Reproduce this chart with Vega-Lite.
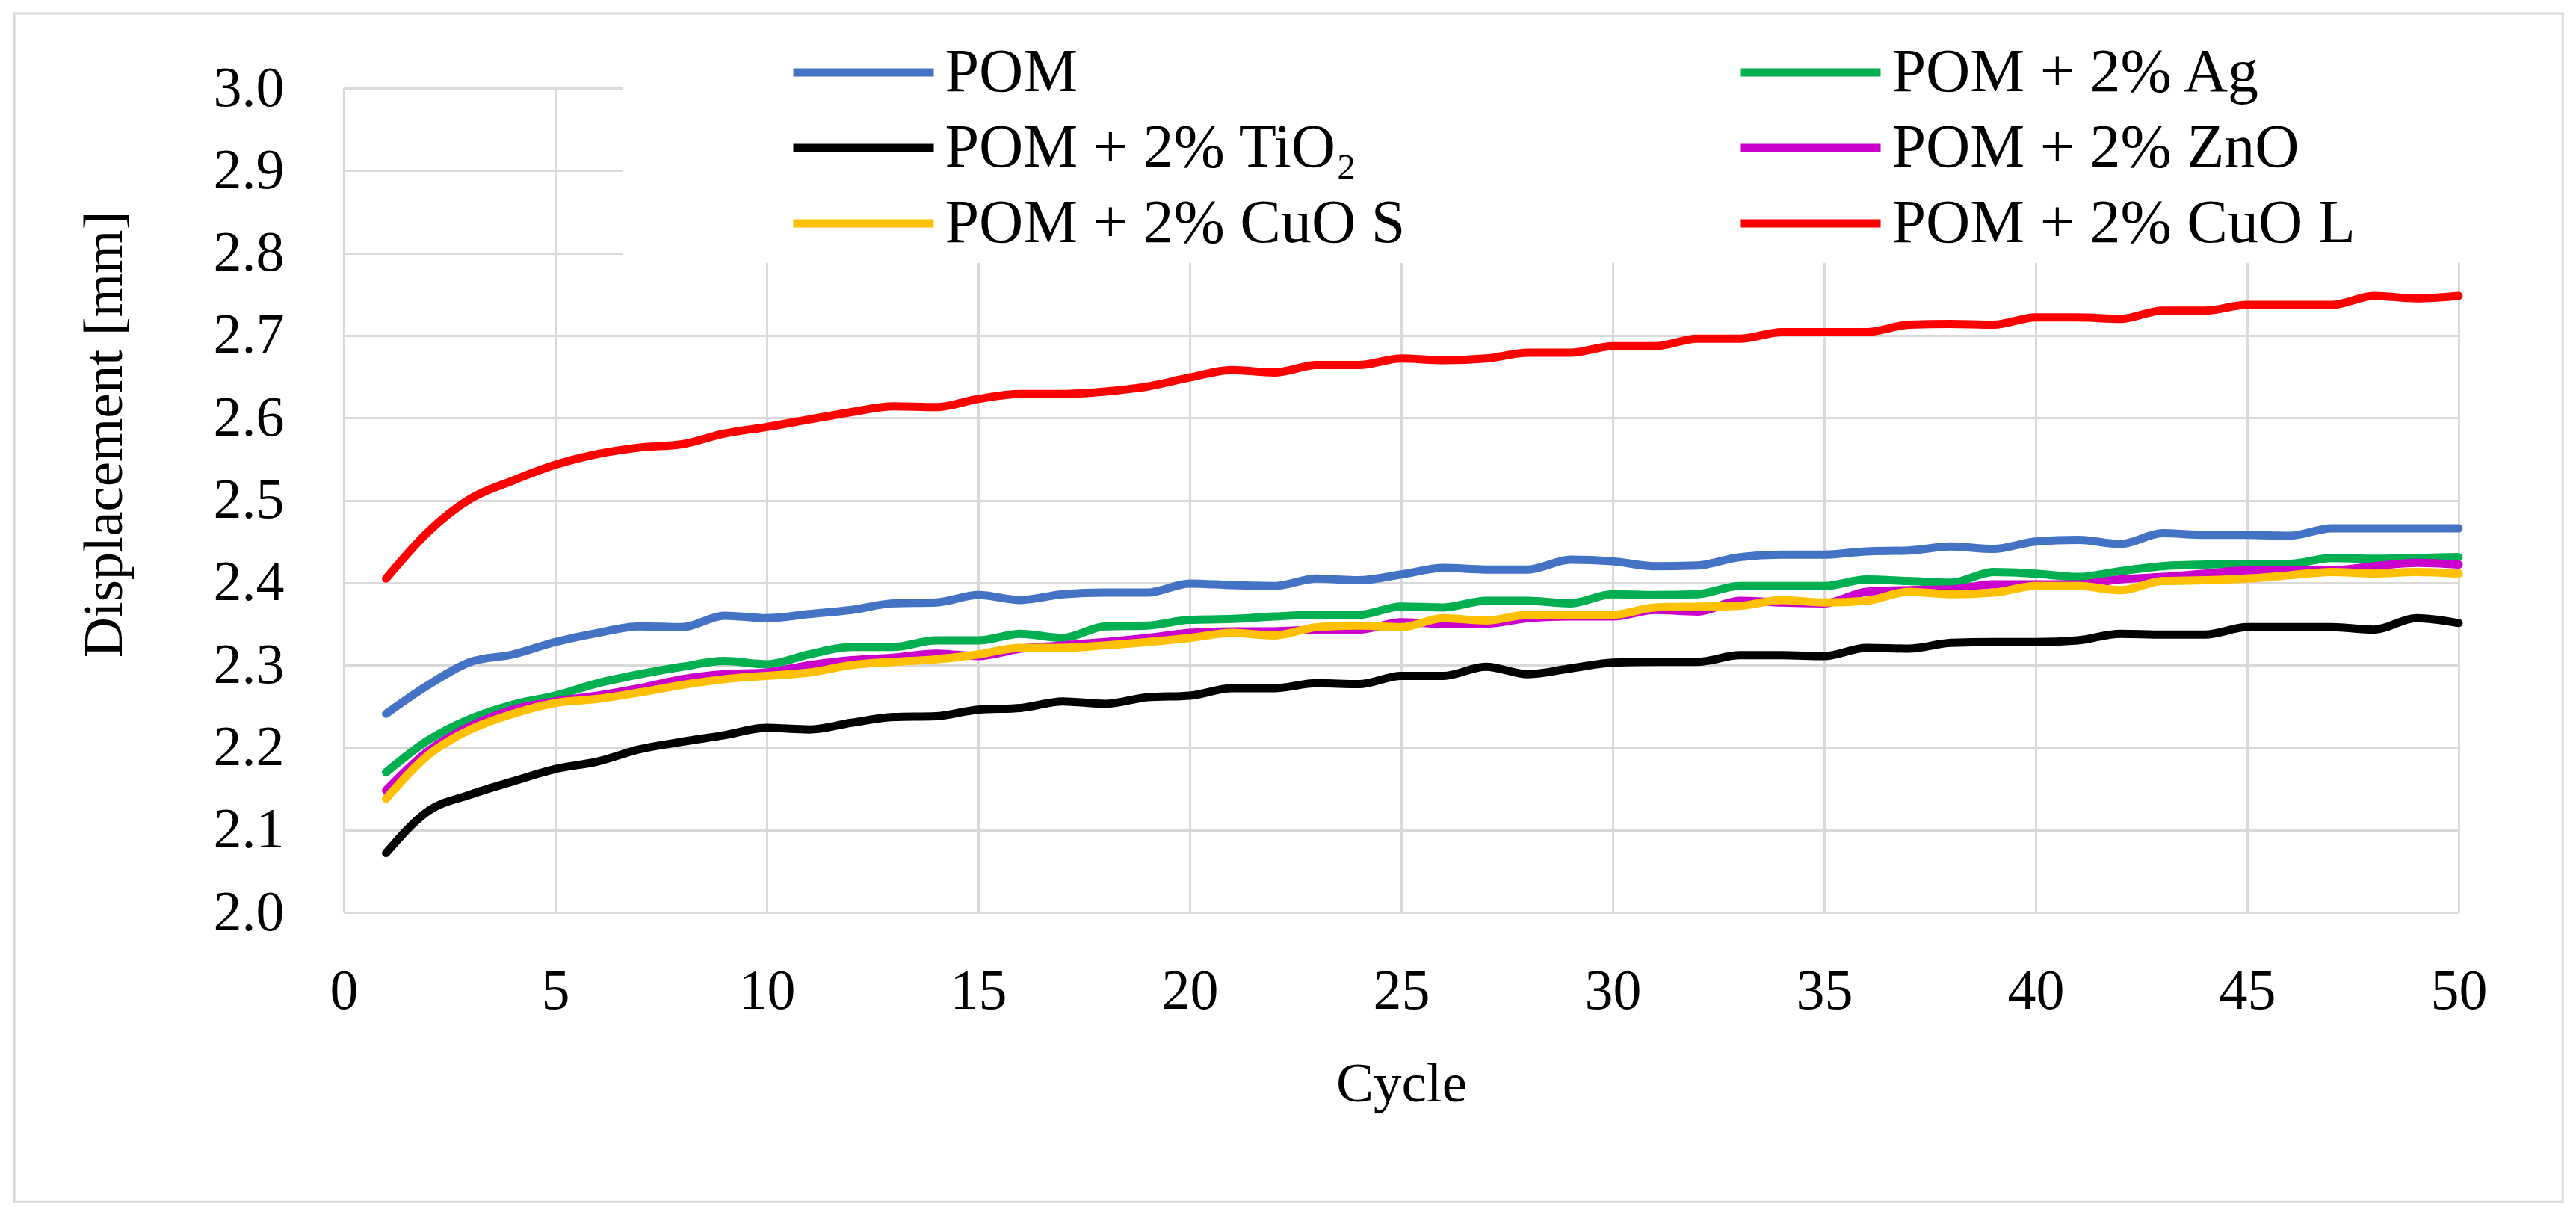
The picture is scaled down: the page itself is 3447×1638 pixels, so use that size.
{
  "$schema": "https://vega.github.io/schema/vega-lite/v6.json",
  "description": "Displacement versus cycle for POM and POM composites",
  "width": 2830,
  "height": 1103,
  "autosize": {"type": "none"},
  "padding": {"left": 460, "top": 118, "right": 157, "bottom": 417},
  "background": "white",
  "config": {"view": {"stroke": null}, "font": "Liberation Serif"},
  "datasets": {
    "displacement": [
      {"cycle": 1, "series": "POM", "mm": 2.241}, {"cycle": 2, "series": "POM", "mm": 2.276}, {"cycle": 3, "series": "POM", "mm": 2.304}, {"cycle": 4, "series": "POM", "mm": 2.313}, {"cycle": 5, "series": "POM", "mm": 2.328},
      {"cycle": 6, "series": "POM", "mm": 2.339}, {"cycle": 7, "series": "POM", "mm": 2.347}, {"cycle": 8, "series": "POM", "mm": 2.346}, {"cycle": 9, "series": "POM", "mm": 2.360}, {"cycle": 10, "series": "POM", "mm": 2.357},
      {"cycle": 11, "series": "POM", "mm": 2.362}, {"cycle": 12, "series": "POM", "mm": 2.367}, {"cycle": 13, "series": "POM", "mm": 2.375}, {"cycle": 14, "series": "POM", "mm": 2.376}, {"cycle": 15, "series": "POM", "mm": 2.385},
      {"cycle": 16, "series": "POM", "mm": 2.379}, {"cycle": 17, "series": "POM", "mm": 2.386}, {"cycle": 18, "series": "POM", "mm": 2.388}, {"cycle": 19, "series": "POM", "mm": 2.388}, {"cycle": 20, "series": "POM", "mm": 2.399},
      {"cycle": 21, "series": "POM", "mm": 2.397}, {"cycle": 22, "series": "POM", "mm": 2.396}, {"cycle": 23, "series": "POM", "mm": 2.405}, {"cycle": 24, "series": "POM", "mm": 2.403}, {"cycle": 25, "series": "POM", "mm": 2.410},
      {"cycle": 26, "series": "POM", "mm": 2.418}, {"cycle": 27, "series": "POM", "mm": 2.416}, {"cycle": 28, "series": "POM", "mm": 2.416}, {"cycle": 29, "series": "POM", "mm": 2.428}, {"cycle": 30, "series": "POM", "mm": 2.426},
      {"cycle": 31, "series": "POM", "mm": 2.420}, {"cycle": 32, "series": "POM", "mm": 2.421}, {"cycle": 33, "series": "POM", "mm": 2.431}, {"cycle": 34, "series": "POM", "mm": 2.434}, {"cycle": 35, "series": "POM", "mm": 2.434},
      {"cycle": 36, "series": "POM", "mm": 2.438}, {"cycle": 37, "series": "POM", "mm": 2.439}, {"cycle": 38, "series": "POM", "mm": 2.444}, {"cycle": 39, "series": "POM", "mm": 2.441}, {"cycle": 40, "series": "POM", "mm": 2.450},
      {"cycle": 41, "series": "POM", "mm": 2.452}, {"cycle": 42, "series": "POM", "mm": 2.447}, {"cycle": 43, "series": "POM", "mm": 2.460}, {"cycle": 44, "series": "POM", "mm": 2.458}, {"cycle": 45, "series": "POM", "mm": 2.458},
      {"cycle": 46, "series": "POM", "mm": 2.457}, {"cycle": 47, "series": "POM", "mm": 2.466}, {"cycle": 48, "series": "POM", "mm": 2.466}, {"cycle": 49, "series": "POM", "mm": 2.466}, {"cycle": 50, "series": "POM", "mm": 2.466},

      {"cycle": 1, "series": "POM + 2% Ag", "mm": 2.170}, {"cycle": 2, "series": "POM + 2% Ag", "mm": 2.209}, {"cycle": 3, "series": "POM + 2% Ag", "mm": 2.235}, {"cycle": 4, "series": "POM + 2% Ag", "mm": 2.252}, {"cycle": 5, "series": "POM + 2% Ag", "mm": 2.263},
      {"cycle": 6, "series": "POM + 2% Ag", "mm": 2.278}, {"cycle": 7, "series": "POM + 2% Ag", "mm": 2.289}, {"cycle": 8, "series": "POM + 2% Ag", "mm": 2.298}, {"cycle": 9, "series": "POM + 2% Ag", "mm": 2.305}, {"cycle": 10, "series": "POM + 2% Ag", "mm": 2.301},
      {"cycle": 11, "series": "POM + 2% Ag", "mm": 2.313}, {"cycle": 12, "series": "POM + 2% Ag", "mm": 2.322}, {"cycle": 13, "series": "POM + 2% Ag", "mm": 2.322}, {"cycle": 14, "series": "POM + 2% Ag", "mm": 2.330}, {"cycle": 15, "series": "POM + 2% Ag", "mm": 2.330},
      {"cycle": 16, "series": "POM + 2% Ag", "mm": 2.338}, {"cycle": 17, "series": "POM + 2% Ag", "mm": 2.333}, {"cycle": 18, "series": "POM + 2% Ag", "mm": 2.347}, {"cycle": 19, "series": "POM + 2% Ag", "mm": 2.348}, {"cycle": 20, "series": "POM + 2% Ag", "mm": 2.355},
      {"cycle": 21, "series": "POM + 2% Ag", "mm": 2.356}, {"cycle": 22, "series": "POM + 2% Ag", "mm": 2.359}, {"cycle": 23, "series": "POM + 2% Ag", "mm": 2.361}, {"cycle": 24, "series": "POM + 2% Ag", "mm": 2.361}, {"cycle": 25, "series": "POM + 2% Ag", "mm": 2.371},
      {"cycle": 26, "series": "POM + 2% Ag", "mm": 2.370}, {"cycle": 27, "series": "POM + 2% Ag", "mm": 2.378}, {"cycle": 28, "series": "POM + 2% Ag", "mm": 2.378}, {"cycle": 29, "series": "POM + 2% Ag", "mm": 2.375}, {"cycle": 30, "series": "POM + 2% Ag", "mm": 2.386},
      {"cycle": 31, "series": "POM + 2% Ag", "mm": 2.385}, {"cycle": 32, "series": "POM + 2% Ag", "mm": 2.386}, {"cycle": 33, "series": "POM + 2% Ag", "mm": 2.396}, {"cycle": 34, "series": "POM + 2% Ag", "mm": 2.396}, {"cycle": 35, "series": "POM + 2% Ag", "mm": 2.396},
      {"cycle": 36, "series": "POM + 2% Ag", "mm": 2.404}, {"cycle": 37, "series": "POM + 2% Ag", "mm": 2.402}, {"cycle": 38, "series": "POM + 2% Ag", "mm": 2.400}, {"cycle": 39, "series": "POM + 2% Ag", "mm": 2.413}, {"cycle": 40, "series": "POM + 2% Ag", "mm": 2.411},
      {"cycle": 41, "series": "POM + 2% Ag", "mm": 2.407}, {"cycle": 42, "series": "POM + 2% Ag", "mm": 2.414}, {"cycle": 43, "series": "POM + 2% Ag", "mm": 2.420}, {"cycle": 44, "series": "POM + 2% Ag", "mm": 2.422}, {"cycle": 45, "series": "POM + 2% Ag", "mm": 2.423},
      {"cycle": 46, "series": "POM + 2% Ag", "mm": 2.423}, {"cycle": 47, "series": "POM + 2% Ag", "mm": 2.430}, {"cycle": 48, "series": "POM + 2% Ag", "mm": 2.429}, {"cycle": 49, "series": "POM + 2% Ag", "mm": 2.430}, {"cycle": 50, "series": "POM + 2% Ag", "mm": 2.431},

      {"cycle": 1, "series": "POM + 2% TiO₂", "mm": 2.072}, {"cycle": 2, "series": "POM + 2% TiO₂", "mm": 2.123}, {"cycle": 3, "series": "POM + 2% TiO₂", "mm": 2.143}, {"cycle": 4, "series": "POM + 2% TiO₂", "mm": 2.159}, {"cycle": 5, "series": "POM + 2% TiO₂", "mm": 2.174},
      {"cycle": 6, "series": "POM + 2% TiO₂", "mm": 2.183}, {"cycle": 7, "series": "POM + 2% TiO₂", "mm": 2.198}, {"cycle": 8, "series": "POM + 2% TiO₂", "mm": 2.207}, {"cycle": 9, "series": "POM + 2% TiO₂", "mm": 2.215}, {"cycle": 10, "series": "POM + 2% TiO₂", "mm": 2.224},
      {"cycle": 11, "series": "POM + 2% TiO₂", "mm": 2.222}, {"cycle": 12, "series": "POM + 2% TiO₂", "mm": 2.230}, {"cycle": 13, "series": "POM + 2% TiO₂", "mm": 2.237}, {"cycle": 14, "series": "POM + 2% TiO₂", "mm": 2.238}, {"cycle": 15, "series": "POM + 2% TiO₂", "mm": 2.246},
      {"cycle": 16, "series": "POM + 2% TiO₂", "mm": 2.248}, {"cycle": 17, "series": "POM + 2% TiO₂", "mm": 2.256}, {"cycle": 18, "series": "POM + 2% TiO₂", "mm": 2.253}, {"cycle": 19, "series": "POM + 2% TiO₂", "mm": 2.261}, {"cycle": 20, "series": "POM + 2% TiO₂", "mm": 2.263},
      {"cycle": 21, "series": "POM + 2% TiO₂", "mm": 2.272}, {"cycle": 22, "series": "POM + 2% TiO₂", "mm": 2.272}, {"cycle": 23, "series": "POM + 2% TiO₂", "mm": 2.278}, {"cycle": 24, "series": "POM + 2% TiO₂", "mm": 2.277}, {"cycle": 25, "series": "POM + 2% TiO₂", "mm": 2.287},
      {"cycle": 26, "series": "POM + 2% TiO₂", "mm": 2.287}, {"cycle": 27, "series": "POM + 2% TiO₂", "mm": 2.298}, {"cycle": 28, "series": "POM + 2% TiO₂", "mm": 2.289}, {"cycle": 29, "series": "POM + 2% TiO₂", "mm": 2.296}, {"cycle": 30, "series": "POM + 2% TiO₂", "mm": 2.303},
      {"cycle": 31, "series": "POM + 2% TiO₂", "mm": 2.304}, {"cycle": 32, "series": "POM + 2% TiO₂", "mm": 2.304}, {"cycle": 33, "series": "POM + 2% TiO₂", "mm": 2.312}, {"cycle": 34, "series": "POM + 2% TiO₂", "mm": 2.312}, {"cycle": 35, "series": "POM + 2% TiO₂", "mm": 2.311},
      {"cycle": 36, "series": "POM + 2% TiO₂", "mm": 2.321}, {"cycle": 37, "series": "POM + 2% TiO₂", "mm": 2.320}, {"cycle": 38, "series": "POM + 2% TiO₂", "mm": 2.327}, {"cycle": 39, "series": "POM + 2% TiO₂", "mm": 2.328}, {"cycle": 40, "series": "POM + 2% TiO₂", "mm": 2.328},
      {"cycle": 41, "series": "POM + 2% TiO₂", "mm": 2.330}, {"cycle": 42, "series": "POM + 2% TiO₂", "mm": 2.338}, {"cycle": 43, "series": "POM + 2% TiO₂", "mm": 2.337}, {"cycle": 44, "series": "POM + 2% TiO₂", "mm": 2.337}, {"cycle": 45, "series": "POM + 2% TiO₂", "mm": 2.346},
      {"cycle": 46, "series": "POM + 2% TiO₂", "mm": 2.346}, {"cycle": 47, "series": "POM + 2% TiO₂", "mm": 2.346}, {"cycle": 48, "series": "POM + 2% TiO₂", "mm": 2.343}, {"cycle": 49, "series": "POM + 2% TiO₂", "mm": 2.357}, {"cycle": 50, "series": "POM + 2% TiO₂", "mm": 2.351},

      {"cycle": 1, "series": "POM + 2% ZnO", "mm": 2.148}, {"cycle": 2, "series": "POM + 2% ZnO", "mm": 2.196}, {"cycle": 3, "series": "POM + 2% ZnO", "mm": 2.226}, {"cycle": 4, "series": "POM + 2% ZnO", "mm": 2.246}, {"cycle": 5, "series": "POM + 2% ZnO", "mm": 2.256},
      {"cycle": 6, "series": "POM + 2% ZnO", "mm": 2.263}, {"cycle": 7, "series": "POM + 2% ZnO", "mm": 2.272}, {"cycle": 8, "series": "POM + 2% ZnO", "mm": 2.283}, {"cycle": 9, "series": "POM + 2% ZnO", "mm": 2.289}, {"cycle": 10, "series": "POM + 2% ZnO", "mm": 2.291},
      {"cycle": 11, "series": "POM + 2% ZnO", "mm": 2.300}, {"cycle": 12, "series": "POM + 2% ZnO", "mm": 2.306}, {"cycle": 13, "series": "POM + 2% ZnO", "mm": 2.309}, {"cycle": 14, "series": "POM + 2% ZnO", "mm": 2.314}, {"cycle": 15, "series": "POM + 2% ZnO", "mm": 2.311},
      {"cycle": 16, "series": "POM + 2% ZnO", "mm": 2.320}, {"cycle": 17, "series": "POM + 2% ZnO", "mm": 2.324}, {"cycle": 18, "series": "POM + 2% ZnO", "mm": 2.328}, {"cycle": 19, "series": "POM + 2% ZnO", "mm": 2.333}, {"cycle": 20, "series": "POM + 2% ZnO", "mm": 2.339},
      {"cycle": 21, "series": "POM + 2% ZnO", "mm": 2.341}, {"cycle": 22, "series": "POM + 2% ZnO", "mm": 2.341}, {"cycle": 23, "series": "POM + 2% ZnO", "mm": 2.343}, {"cycle": 24, "series": "POM + 2% ZnO", "mm": 2.343}, {"cycle": 25, "series": "POM + 2% ZnO", "mm": 2.352},
      {"cycle": 26, "series": "POM + 2% ZnO", "mm": 2.350}, {"cycle": 27, "series": "POM + 2% ZnO", "mm": 2.350}, {"cycle": 28, "series": "POM + 2% ZnO", "mm": 2.357}, {"cycle": 29, "series": "POM + 2% ZnO", "mm": 2.359}, {"cycle": 30, "series": "POM + 2% ZnO", "mm": 2.359},
      {"cycle": 31, "series": "POM + 2% ZnO", "mm": 2.367}, {"cycle": 32, "series": "POM + 2% ZnO", "mm": 2.365}, {"cycle": 33, "series": "POM + 2% ZnO", "mm": 2.378}, {"cycle": 34, "series": "POM + 2% ZnO", "mm": 2.376}, {"cycle": 35, "series": "POM + 2% ZnO", "mm": 2.375},
      {"cycle": 36, "series": "POM + 2% ZnO", "mm": 2.389}, {"cycle": 37, "series": "POM + 2% ZnO", "mm": 2.391}, {"cycle": 38, "series": "POM + 2% ZnO", "mm": 2.392}, {"cycle": 39, "series": "POM + 2% ZnO", "mm": 2.398}, {"cycle": 40, "series": "POM + 2% ZnO", "mm": 2.398},
      {"cycle": 41, "series": "POM + 2% ZnO", "mm": 2.398}, {"cycle": 42, "series": "POM + 2% ZnO", "mm": 2.404}, {"cycle": 43, "series": "POM + 2% ZnO", "mm": 2.407}, {"cycle": 44, "series": "POM + 2% ZnO", "mm": 2.411}, {"cycle": 45, "series": "POM + 2% ZnO", "mm": 2.415},
      {"cycle": 46, "series": "POM + 2% ZnO", "mm": 2.415}, {"cycle": 47, "series": "POM + 2% ZnO", "mm": 2.415}, {"cycle": 48, "series": "POM + 2% ZnO", "mm": 2.420}, {"cycle": 49, "series": "POM + 2% ZnO", "mm": 2.424}, {"cycle": 50, "series": "POM + 2% ZnO", "mm": 2.422},

      {"cycle": 1, "series": "POM + 2% CuO S", "mm": 2.138}, {"cycle": 2, "series": "POM + 2% CuO S", "mm": 2.191}, {"cycle": 3, "series": "POM + 2% CuO S", "mm": 2.222}, {"cycle": 4, "series": "POM + 2% CuO S", "mm": 2.241}, {"cycle": 5, "series": "POM + 2% CuO S", "mm": 2.254},
      {"cycle": 6, "series": "POM + 2% CuO S", "mm": 2.259}, {"cycle": 7, "series": "POM + 2% CuO S", "mm": 2.267}, {"cycle": 8, "series": "POM + 2% CuO S", "mm": 2.276}, {"cycle": 9, "series": "POM + 2% CuO S", "mm": 2.283}, {"cycle": 10, "series": "POM + 2% CuO S", "mm": 2.287},
      {"cycle": 11, "series": "POM + 2% CuO S", "mm": 2.291}, {"cycle": 12, "series": "POM + 2% CuO S", "mm": 2.300}, {"cycle": 13, "series": "POM + 2% CuO S", "mm": 2.304}, {"cycle": 14, "series": "POM + 2% CuO S", "mm": 2.307}, {"cycle": 15, "series": "POM + 2% CuO S", "mm": 2.313},
      {"cycle": 16, "series": "POM + 2% CuO S", "mm": 2.321}, {"cycle": 17, "series": "POM + 2% CuO S", "mm": 2.321}, {"cycle": 18, "series": "POM + 2% CuO S", "mm": 2.324}, {"cycle": 19, "series": "POM + 2% CuO S", "mm": 2.328}, {"cycle": 20, "series": "POM + 2% CuO S", "mm": 2.333},
      {"cycle": 21, "series": "POM + 2% CuO S", "mm": 2.339}, {"cycle": 22, "series": "POM + 2% CuO S", "mm": 2.336}, {"cycle": 23, "series": "POM + 2% CuO S", "mm": 2.346}, {"cycle": 24, "series": "POM + 2% CuO S", "mm": 2.348}, {"cycle": 25, "series": "POM + 2% CuO S", "mm": 2.346},
      {"cycle": 26, "series": "POM + 2% CuO S", "mm": 2.357}, {"cycle": 27, "series": "POM + 2% CuO S", "mm": 2.354}, {"cycle": 28, "series": "POM + 2% CuO S", "mm": 2.361}, {"cycle": 29, "series": "POM + 2% CuO S", "mm": 2.361}, {"cycle": 30, "series": "POM + 2% CuO S", "mm": 2.361},
      {"cycle": 31, "series": "POM + 2% CuO S", "mm": 2.370}, {"cycle": 32, "series": "POM + 2% CuO S", "mm": 2.371}, {"cycle": 33, "series": "POM + 2% CuO S", "mm": 2.372}, {"cycle": 34, "series": "POM + 2% CuO S", "mm": 2.379}, {"cycle": 35, "series": "POM + 2% CuO S", "mm": 2.376},
      {"cycle": 36, "series": "POM + 2% CuO S", "mm": 2.378}, {"cycle": 37, "series": "POM + 2% CuO S", "mm": 2.389}, {"cycle": 38, "series": "POM + 2% CuO S", "mm": 2.386}, {"cycle": 39, "series": "POM + 2% CuO S", "mm": 2.388}, {"cycle": 40, "series": "POM + 2% CuO S", "mm": 2.396},
      {"cycle": 41, "series": "POM + 2% CuO S", "mm": 2.396}, {"cycle": 42, "series": "POM + 2% CuO S", "mm": 2.391}, {"cycle": 43, "series": "POM + 2% CuO S", "mm": 2.402}, {"cycle": 44, "series": "POM + 2% CuO S", "mm": 2.403}, {"cycle": 45, "series": "POM + 2% CuO S", "mm": 2.405},
      {"cycle": 46, "series": "POM + 2% CuO S", "mm": 2.409}, {"cycle": 47, "series": "POM + 2% CuO S", "mm": 2.413}, {"cycle": 48, "series": "POM + 2% CuO S", "mm": 2.411}, {"cycle": 49, "series": "POM + 2% CuO S", "mm": 2.413}, {"cycle": 50, "series": "POM + 2% CuO S", "mm": 2.411},

      {"cycle": 1, "series": "POM + 2% CuO L", "mm": 2.405}, {"cycle": 2, "series": "POM + 2% CuO L", "mm": 2.462}, {"cycle": 3, "series": "POM + 2% CuO L", "mm": 2.502}, {"cycle": 4, "series": "POM + 2% CuO L", "mm": 2.524}, {"cycle": 5, "series": "POM + 2% CuO L", "mm": 2.543},
      {"cycle": 6, "series": "POM + 2% CuO L", "mm": 2.556}, {"cycle": 7, "series": "POM + 2% CuO L", "mm": 2.564}, {"cycle": 8, "series": "POM + 2% CuO L", "mm": 2.568}, {"cycle": 9, "series": "POM + 2% CuO L", "mm": 2.581}, {"cycle": 10, "series": "POM + 2% CuO L", "mm": 2.589},
      {"cycle": 11, "series": "POM + 2% CuO L", "mm": 2.598}, {"cycle": 12, "series": "POM + 2% CuO L", "mm": 2.607}, {"cycle": 13, "series": "POM + 2% CuO L", "mm": 2.614}, {"cycle": 14, "series": "POM + 2% CuO L", "mm": 2.613}, {"cycle": 15, "series": "POM + 2% CuO L", "mm": 2.623},
      {"cycle": 16, "series": "POM + 2% CuO L", "mm": 2.629}, {"cycle": 17, "series": "POM + 2% CuO L", "mm": 2.629}, {"cycle": 18, "series": "POM + 2% CuO L", "mm": 2.632}, {"cycle": 19, "series": "POM + 2% CuO L", "mm": 2.638}, {"cycle": 20, "series": "POM + 2% CuO L", "mm": 2.649},
      {"cycle": 21, "series": "POM + 2% CuO L", "mm": 2.658}, {"cycle": 22, "series": "POM + 2% CuO L", "mm": 2.655}, {"cycle": 23, "series": "POM + 2% CuO L", "mm": 2.664}, {"cycle": 24, "series": "POM + 2% CuO L", "mm": 2.664}, {"cycle": 25, "series": "POM + 2% CuO L", "mm": 2.672},
      {"cycle": 26, "series": "POM + 2% CuO L", "mm": 2.670}, {"cycle": 27, "series": "POM + 2% CuO L", "mm": 2.672}, {"cycle": 28, "series": "POM + 2% CuO L", "mm": 2.679}, {"cycle": 29, "series": "POM + 2% CuO L", "mm": 2.679}, {"cycle": 30, "series": "POM + 2% CuO L", "mm": 2.687},
      {"cycle": 31, "series": "POM + 2% CuO L", "mm": 2.687}, {"cycle": 32, "series": "POM + 2% CuO L", "mm": 2.696}, {"cycle": 33, "series": "POM + 2% CuO L", "mm": 2.696}, {"cycle": 34, "series": "POM + 2% CuO L", "mm": 2.704}, {"cycle": 35, "series": "POM + 2% CuO L", "mm": 2.704},
      {"cycle": 36, "series": "POM + 2% CuO L", "mm": 2.704}, {"cycle": 37, "series": "POM + 2% CuO L", "mm": 2.713}, {"cycle": 38, "series": "POM + 2% CuO L", "mm": 2.714}, {"cycle": 39, "series": "POM + 2% CuO L", "mm": 2.713}, {"cycle": 40, "series": "POM + 2% CuO L", "mm": 2.722},
      {"cycle": 41, "series": "POM + 2% CuO L", "mm": 2.722}, {"cycle": 42, "series": "POM + 2% CuO L", "mm": 2.720}, {"cycle": 43, "series": "POM + 2% CuO L", "mm": 2.730}, {"cycle": 44, "series": "POM + 2% CuO L", "mm": 2.730}, {"cycle": 45, "series": "POM + 2% CuO L", "mm": 2.737},
      {"cycle": 46, "series": "POM + 2% CuO L", "mm": 2.737}, {"cycle": 47, "series": "POM + 2% CuO L", "mm": 2.737}, {"cycle": 48, "series": "POM + 2% CuO L", "mm": 2.748}, {"cycle": 49, "series": "POM + 2% CuO L", "mm": 2.745}, {"cycle": 50, "series": "POM + 2% CuO L", "mm": 2.748}
    ]
  },
  "layer": [
    {
      "data": {"name": "displacement"},
      "mark": {"type": "line", "interpolate": "monotone", "strokeWidth": 11, "strokeCap": "round", "strokeJoin": "round"},
      "encoding": {
        "x": {
          "field": "cycle",
          "type": "quantitative",
          "scale": {"domain": [0, 50], "nice": false, "zero": false},
          "axis": {
            "title": "Cycle",
            "titleFont": "Liberation Serif",
            "titleFontSize": 75,
            "titleFontWeight": "normal",
            "titleColor": "black",
            "titleY": 252,
            "titleBaseline": "alphabetic",
            "values": [0, 5, 10, 15, 20, 25, 30, 35, 40, 45, 50],
            "format": "d",
            "labelFont": "Liberation Serif",
            "labelFontSize": 76,
            "labelColor": "black",
            "labelPadding": 68,
            "labelFlush": false,
            "labelOverlap": false,
            "ticks": false,
            "domain": false,
            "grid": true,
            "gridColor": "#d9d9d9",
            "gridWidth": 3
          }
        },
        "y": {
          "field": "mm",
          "type": "quantitative",
          "scale": {"domain": [2.0, 3.0], "nice": false, "zero": false},
          "axis": {
            "title": "Displacement [mm]",
            "titleFont": "Liberation Serif",
            "titleFontSize": 75,
            "titleFontWeight": "normal",
            "titleColor": "black",
            "titleX": -282,
            "titleY": 463,
            "values": [2.0, 2.1, 2.2, 2.3, 2.4, 2.5, 2.6, 2.7, 2.8, 2.9, 3.0],
            "format": ".1f",
            "labelFont": "Liberation Serif",
            "labelFontSize": 76,
            "labelColor": "black",
            "labelPadding": 80,
            "labelFlush": false,
            "labelOverlap": false,
            "ticks": false,
            "domain": false,
            "grid": true,
            "gridColor": "#d9d9d9",
            "gridWidth": 3
          }
        },
        "color": {
          "field": "series",
          "type": "nominal",
          "scale": {
            "domain": ["POM", "POM + 2% Ag", "POM + 2% TiO₂", "POM + 2% ZnO", "POM + 2% CuO S", "POM + 2% CuO L"],
            "range": ["#4472C4", "#00B050", "#000000", "#CC00CC", "#FFC000", "#FF0000"]
          },
          "legend": {
            "title": null,
            "orient": "none",
            "direction": "horizontal",
            "legendX": 596,
            "legendY": -68.5,
            "columns": 2,
            "padding": 0,
            "symbolType": "stroke",
            "symbolSize": 35344,
            "symbolStrokeWidth": 11,
            "clipHeight": 95,
            "rowPadding": 6,
            "columnPadding": 442,
            "labelFont": "Liberation Serif",
            "labelFontSize": 82,
            "labelColor": "black",
            "labelOffset": 9.5,
            "labelLimit": 2000
          }
        }
      }
    },
    {
      "data": {"values": [{}]},
      "mark": {"type": "rect", "fill": "white"},
      "encoding": {
        "x": {"datum": 6.59, "type": "quantitative"},
        "x2": {"datum": 50.2},
        "y": {"datum": 2.788, "type": "quantitative"},
        "y2": {"datum": 3.06}
      }
    },
    {
      "data": {"values": [{}]},
      "mark": {"type": "rect", "fill": null, "stroke": "#d9d9d9", "strokeWidth": 3},
      "encoding": {
        "x": {"datum": -7.79, "type": "quantitative"},
        "x2": {"datum": 52.46},
        "y": {"datum": 1.649, "type": "quantitative"},
        "y2": {"datum": 3.0907}
      }
    }
  ]
}
